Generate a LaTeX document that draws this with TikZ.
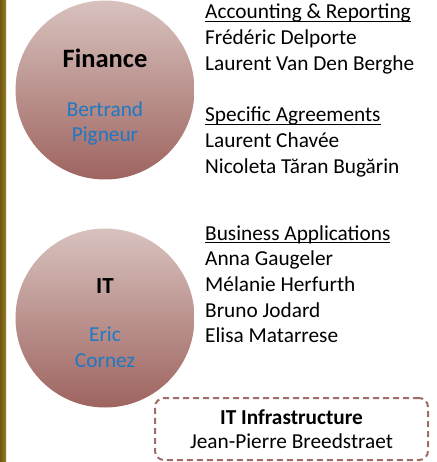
\documentclass[tikz,border=0pt]{standalone}
\usepackage{fontspec}
\setmainfont{Carlito}
\definecolor{rosetop}{RGB}{216,194,190}
\definecolor{rosebot}{RGB}{158,100,96}
\definecolor{roseline}{RGB}{160,108,104}
\definecolor{headblue}{RGB}{31,120,196}
\definecolor{goldbar}{RGB}{140,110,22}
\newcommand{\ulhead}[1]{\begingroup\setbox0\hbox{#1}\rlap{\rule[-3pt]{\wd0}{1.3pt}}\box0\endgroup}
\tikzset{
  dept/.style={circle, minimum size=179pt, inner sep=0pt, top color=rosetop, bottom color=rosebot, draw=none},
  deptname/.style={anchor=base, font=\fontsize{26.5}{30}\selectfont\bfseries},
  depthead/.style={anchor=base, font=\fontsize{21.3}{26}\selectfont, text=headblue},
  member/.style={anchor=base west, inner sep=0pt, font=\fontsize{21.3}{26}\selectfont},
  teambox/.style={draw=roseline, line width=2pt, dash pattern=on 6pt off 4pt, rounded corners=9pt,
    minimum width=273pt, minimum height=62pt, align=center, font=\fontsize{21.3}{24}\selectfont}
}
\begin{document}
\begin{tikzpicture}[x=1pt, y=-1pt]
  \useasboundingbox (0,0) rectangle (436,462);
  \shade[left color=goldbar!80!black, right color=goldbar!90!white] (0,0) rectangle (6,462);

  % Finance
  \node[dept] (fin) at (105,90) {};
  \node[deptname] (finname) at (105,68) {Finance};
  \node[depthead] (finhead1) at (105,117) {Bertrand};
  \node[depthead] (finhead2) at (105,142) {Pigneur};

  \node[member] (acc) at (205,19) {\ulhead{Accounting \& Reporting}};
  \foreach \who [count=\i] in {Frédéric Delporte, Laurent Van Den Berghe}
    \node[member] (acc\i) at (205,19+25.7*\i) {\who};
  \node[member] (agr) at (205,122) {\ulhead{Specific Agreements}};
  \foreach \who [count=\i] in {Laurent Chavée, Nicoleta Tăran Bugărin}
    \node[member] (agr\i) at (205,122+25.7*\i) {\who};

  % IT
  \node[dept] (it) at (105,318) {};
  \node[deptname, font=\fontsize{23}{26}\selectfont\bfseries] (itname) at (105,293) {IT};
  \node[depthead] (ithead1) at (105,341) {Eric};
  \node[depthead] (ithead2) at (105,367) {Cornez};

  \node[member] (app) at (205,240) {\ulhead{Business Applications}};
  \foreach \who [count=\i] in {Anna Gaugeler, Mélanie Herfurth, Bruno Jodard, Elisa Matarrese}
    \node[member] (app\i) at (205,240+25.7*\i) {\who};

  \node[teambox] (infra) at (291.5,429) {\textbf{IT Infrastructure}\\Jean-Pierre Breedstraet};
\end{tikzpicture}
\end{document}
